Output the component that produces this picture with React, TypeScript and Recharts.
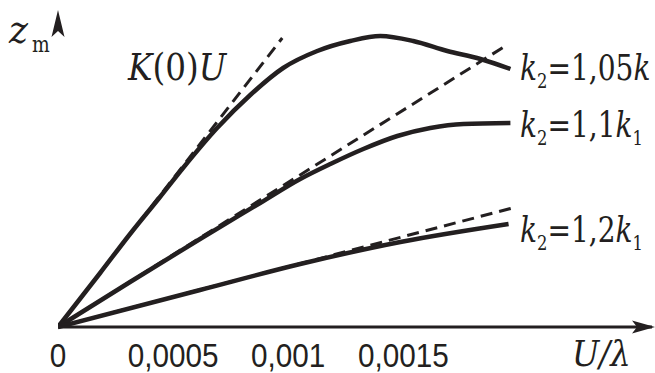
import { LineChart, Line, XAxis, YAxis } from 'recharts';

// U/λ in units of 1e-3, z_m in arbitrary units
const curve105X = [0, 0.183, 0.313, 0.443, 0.543, 0.691, 0.835, 0.978, 1.126, 1.27, 1.4, 1.543, 1.691, 1.835, 1.965];
const curve105Y = [0, 54, 93, 130, 159, 199, 232, 259, 276, 286, 291, 286, 276, 268, 258];

const curve11X = [0, 0.313, 0.617, 0.878, 1.052, 1.183, 1.326, 1.474, 1.617, 1.761, 1.965];
const curve11Y = [0, 45, 88, 124, 148, 163, 178, 191, 199, 203, 204];

const curve12X = [0, 0.617, 1.052, 1.487, 1.957];
const curve12Y = [0, 37, 63, 85, 103];

const tangent105X = [0, 0.974];
const tangent105Y = [0, 289];
const tangent11X = [0, 1.943];
const tangent11Y = [0, 281];
const tangent12X = [0, 1.974];
const tangent12Y = [0, 119];

const xTicks = [0, 0.0005, 0.001, 0.0015];

const toPoints = (xs: number[], ys: number[]) => xs.map((x, i) => ({ u: x / 1000, z: ys[i] }));

const INK = '#231f20';
const serif = 'DejaVu Serif';
const sans = 'Liberation Sans';

function Tick(props: any) {
  const { x, y, payload } = props;
  const label = String(payload.value).replace('.', ',');
  return (
    <text
      transform={`translate(${x},${y + 40}) scale(0.9,1)`}
      textAnchor="middle"
      fill={INK}
      fontFamily={sans}
      fontSize={33}
    >
      {label}
    </text>
  );
}

// k₂ = <coef> k [₁]
function KLabel({ x, y, coef, sub1 }: { x: number; y: number; coef: string; sub1: boolean }) {
  return (
    <text transform={`translate(${x},${y}) scale(0.78,1)`} fontFamily={serif} fontSize={36} fill={INK}>
      <tspan fontStyle="italic">k</tspan>
      <tspan fontSize={21} dy={8}>2</tspan>
      <tspan dy={-8}>={coef}</tspan>
      <tspan fontStyle="italic">k</tspan>
      {sub1 && <tspan fontSize={21} dy={8}>1</tspan>}
    </text>
  );
}

export default function App() {
  return (
    <div style={{ position: 'absolute', left: 0, top: 0, width: 655, height: 373, background: '#fff' }}>
      <LineChart width={655} height={373} margin={{ top: 12, right: 3, bottom: 0, left: 58 }}>
        <XAxis
          type="number"
          dataKey="u"
          domain={[0, 0.00258]}
          ticks={xTicks}
          allowDataOverflow
          height={46}
          tickSize={0}
          tickMargin={0}
          tickLine={false}
          axisLine={{ stroke: INK, strokeWidth: 3 }}
          tick={<Tick />}
        />
        <YAxis
          type="number"
          dataKey="z"
          domain={[0, 315]}
          width={0}
          tick={false}
          tickLine={false}
          axisLine={{ stroke: INK, strokeWidth: 3 }}
        />
        <Line data={toPoints(tangent105X, tangent105Y)} dataKey="z" type="linear" stroke={INK} strokeWidth={3} strokeDasharray="12 7" dot={false} isAnimationActive={false} />
        <Line data={toPoints(tangent11X, tangent11Y)} dataKey="z" type="linear" stroke={INK} strokeWidth={3} strokeDasharray="12 7" dot={false} isAnimationActive={false} />
        <Line data={toPoints(tangent12X, tangent12Y)} dataKey="z" type="linear" stroke={INK} strokeWidth={3} strokeDasharray="12 7" dot={false} isAnimationActive={false} />
        <Line data={toPoints(curve105X, curve105Y)} dataKey="z" type="monotone" stroke={INK} strokeWidth={4.5} dot={false} isAnimationActive={false} />
        <Line data={toPoints(curve11X, curve11Y)} dataKey="z" type="monotone" stroke={INK} strokeWidth={4.5} dot={false} isAnimationActive={false} />
        <Line data={toPoints(curve12X, curve12Y)} dataKey="z" type="monotone" stroke={INK} strokeWidth={4.5} dot={false} isAnimationActive={false} />
      </LineChart>
      <svg width={655} height={373} style={{ position: 'absolute', left: 0, top: 0, pointerEvents: 'none' }}>
        {/* axis arrow heads */}
        <polygon points="58,10 51.5,37 58,31 64.5,37" fill={INK} />
        <polygon points="655,327 632,320.5 637,327 632,333.5" fill={INK} />
        {/* axis titles */}
        <text transform="translate(9,43) scale(0.9,1)" fontFamily={serif} fontSize={40} fontStyle="italic" fill={INK}>z</text>
        <text transform="translate(32,52) scale(0.85,1)" fontFamily={serif} fontSize={22} fill={INK}>m</text>
        <text transform="translate(572,366) scale(0.9,1)" fontFamily={serif} fontSize={36} fontStyle="italic" fill={INK}>U/λ</text>
        {/* curve labels */}
        <text transform="translate(128,80) scale(0.86,1)" fontFamily={serif} fontSize={38} fill={INK}>
          <tspan fontStyle="italic">K</tspan>(0)<tspan fontStyle="italic">U</tspan>
        </text>
        <KLabel x={520} y={80} coef="1,05" sub1={false} />
        <KLabel x={520} y={137} coef="1,1" sub1 />
        <KLabel x={520} y={242} coef="1,2" sub1 />
      </svg>
    </div>
  );
}
